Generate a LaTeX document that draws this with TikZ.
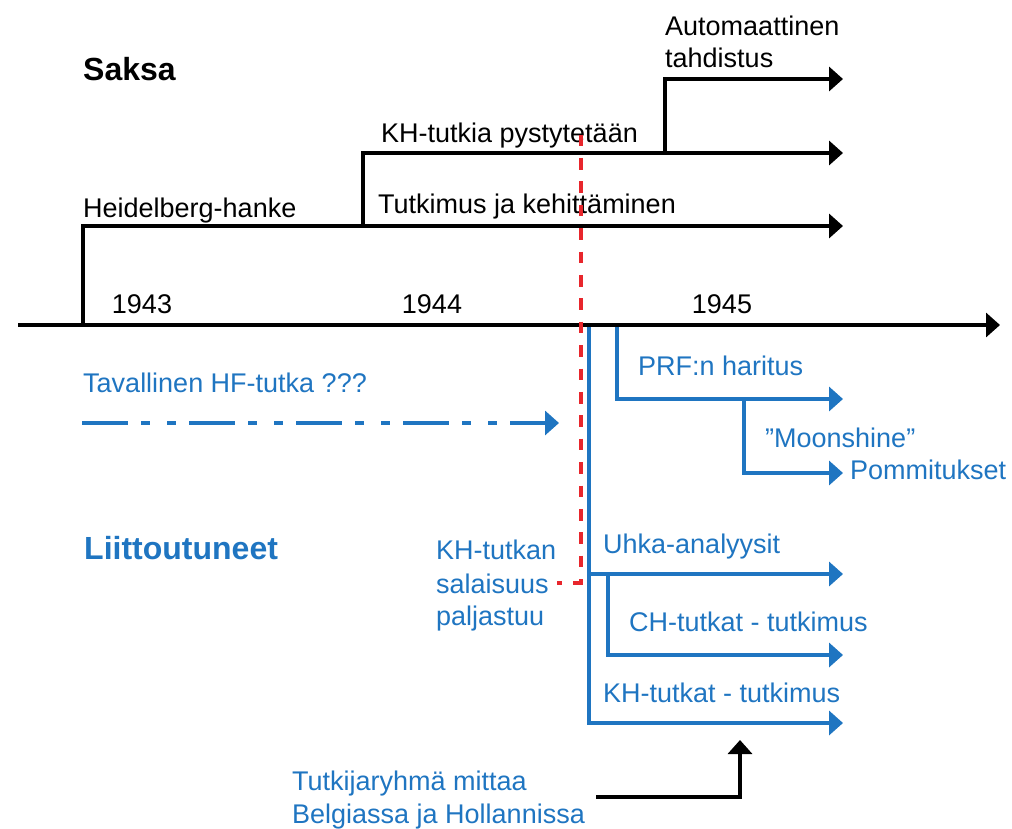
\documentclass[tikz,border=0pt]{standalone}
\usepackage{fontspec}
\setmainfont{Liberation Sans}
\usetikzlibrary{arrows.meta}
\definecolor{allyblue}{RGB}{31,117,193}
\definecolor{leakred}{RGB}{232,38,44}
\begin{document}
\begin{tikzpicture}[x=1pt,y=-1pt,
  lbl/.style={anchor=base west,inner sep=0pt,font=\fontsize{27}{33}\selectfont},
  bluelbl/.style={lbl,text=allyblue},
  head/.style={anchor=base west,inner sep=0pt,font=\fontsize{32}{36}\selectfont\bfseries},
  tip/.style={-{Triangle[length=14pt,width=24pt]}},
  germ/.style={draw=black,line width=4pt,tip},
  ally/.style={draw=allyblue,line width=3.8pt,tip},
  leak/.style={draw=leakred,line width=3.3pt,dash pattern=on 11.7pt off 11.7pt}]
\useasboundingbox (0,0) rectangle (1012,828);

% time axis
\coordinate (ax0) at (18,325);
\coordinate (ax1) at (1000,325);
\draw[draw=black,line width=3.3pt,tip] (ax0) -- (ax1);
\node[lbl,anchor=base] (y43) at (142,313) {1943};
\node[lbl,anchor=base] (y44) at (432,313) {1944};
\node[lbl,anchor=base] (y45) at (722,313) {1945};

% Germany
\node[head] (saksa) at (83,80) {Saksa};
\coordinate (hb0) at (83,326);
\coordinate (hb1) at (83,226);
\coordinate (hb2) at (843,226);
\coordinate (kh0) at (363,226);
\coordinate (kh1) at (363,153);
\coordinate (kh2) at (843,153);
\coordinate (at0) at (665,153);
\coordinate (at1) at (665,79);
\coordinate (at2) at (843,79);
\draw[germ,line join=miter] (hb0) -- (hb1) -- (hb2);
\draw[germ,line join=miter] (kh0) -- (kh1) -- (kh2);
\draw[germ,line join=miter] (at0) -- (at1) -- (at2);
\node[lbl] (heid) at (83,217) {Heidelberg-hanke};
\node[lbl] (tutk) at (378,213) {Tutkimus ja kehittäminen};
\node[lbl] (pyst) at (381,142) {KH-tutkia pystytetään};
\node[lbl] (auto) at (665,35) {Automaattinen};
\node[lbl] (tahd) at (665,67) {tahdistus};

% disclosure marker
\coordinate (rd0) at (581,134.5);
\coordinate (rd1) at (581,583);
\coordinate (rd2) at (557,583);
\draw[leak] (rd0) -- (rd1) -- (rd2);

% Allies
\node[head,text=allyblue] (liit) at (84,559) {Liittoutuneet};
\node[bluelbl] (hf) at (83,392) {Tavallinen HF-tutka ???};
\coordinate (hf0) at (82,423);
\coordinate (hf1) at (559,423);
\draw[draw=allyblue,line width=3.4pt,tip,
  dash pattern=on 46pt off 13pt on 9pt off 17pt on 9pt off 13pt] (hf0) -- (hf1);

\node[bluelbl] (kht1) at (436,559) {KH-tutkan};
\node[bluelbl] (kht2) at (436,593) {salaisuus};
\node[bluelbl] (kht3) at (436,625) {paljastuu};

% PRF branch
\coordinate (pr0) at (617,327);
\coordinate (pr1) at (617,399);
\coordinate (pr2) at (843,399);
\coordinate (mo0) at (744,399);
\coordinate (mo1) at (744,473);
\coordinate (mo2) at (843,473);
\draw[ally,line join=miter] (pr0) -- (pr1) -- (pr2);
\draw[ally,line join=miter] (mo0) -- (mo1) -- (mo2);
\node[bluelbl] (prf) at (638,375) {PRF:n haritus};
\node[bluelbl] (moon) at (765,447) {”Moonshine”};
\node[bluelbl] (pomm) at (850,479) {Pommitukset};

% threat analysis and research branches
\coordinate (ma0) at (589,327);
\coordinate (ma1) at (589,723);
\coordinate (ma2) at (843,723);
\coordinate (uh0) at (589,574);
\coordinate (uh1) at (843,574);
\coordinate (ch0) at (608,574);
\coordinate (ch1) at (608,655);
\coordinate (ch2) at (843,655);
\draw[ally,line join=miter] (ma0) -- (ma1) -- (ma2);
\draw[ally] (uh0) -- (uh1);
\draw[ally,line join=miter] (ch0) -- (ch1) -- (ch2);
\node[bluelbl] (uhka) at (603,553) {Uhka-analyysit};
\node[bluelbl] (chtk) at (629,631) {CH-tutkat - tutkimus};
\node[bluelbl] (khtk) at (603,702) {KH-tutkat - tutkimus};

% field measurements
\node[bluelbl] (mit1) at (292,790) {Tutkijaryhmä mittaa};
\node[bluelbl] (mit2) at (292,823) {Belgiassa ja Hollannissa};
\coordinate (fm0) at (596,797);
\coordinate (fm1) at (740,797);
\coordinate (fm2) at (740,740);
\draw[germ,line join=miter] (fm0) -- (fm1) -- (fm2);
\end{tikzpicture}
\end{document}
